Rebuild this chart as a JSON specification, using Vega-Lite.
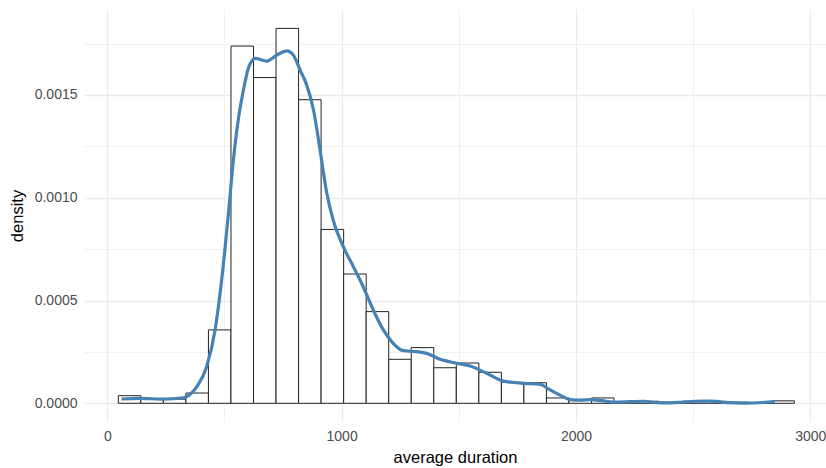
{
  "$schema": "https://vega.github.io/schema/vega-lite/v6.json",
  "width": 742,
  "height": 413,
  "autosize": {"type": "none"},
  "padding": {"left": 84, "top": 9, "right": 0, "bottom": 46},
  "background": "white",
  "config": {
    "view": {"stroke": null},
    "font": "Liberation Sans",
    "axis": {
      "domain": false,
      "ticks": false,
      "grid": true,
      "gridColor": "#EBEBEB",
      "labelFontSize": 14,
      "labelColor": "#4D4D4D",
      "labelPadding": 7,
      "labelOverlap": false,
      "labelBound": false,
      "labelFlush": false,
      "titleFontSize": 16.5,
      "titleFontWeight": "normal",
      "titleColor": "#000000"
    }
  },
  "datasets": {
    "bins": [
      {"bin_start": 47.0, "bin_end": 143.2, "density": 0.000037},
      {"bin_start": 143.2, "bin_end": 239.3, "density": 0.000020},
      {"bin_start": 239.3, "bin_end": 335.5, "density": 0.000020},
      {"bin_start": 335.5, "bin_end": 431.6, "density": 0.000050},
      {"bin_start": 431.6, "bin_end": 527.8, "density": 0.000357},
      {"bin_start": 527.8, "bin_end": 624.0, "density": 0.001738},
      {"bin_start": 624.0, "bin_end": 720.1, "density": 0.001585},
      {"bin_start": 720.1, "bin_end": 816.3, "density": 0.001824},
      {"bin_start": 816.3, "bin_end": 912.4, "density": 0.001477},
      {"bin_start": 912.4, "bin_end": 1008.6, "density": 0.000846},
      {"bin_start": 1008.6, "bin_end": 1104.8, "density": 0.000629},
      {"bin_start": 1104.8, "bin_end": 1200.9, "density": 0.000446},
      {"bin_start": 1200.9, "bin_end": 1297.1, "density": 0.000214},
      {"bin_start": 1297.1, "bin_end": 1393.2, "density": 0.000271},
      {"bin_start": 1393.2, "bin_end": 1489.4, "density": 0.000173},
      {"bin_start": 1489.4, "bin_end": 1585.6, "density": 0.000196},
      {"bin_start": 1585.6, "bin_end": 1681.7, "density": 0.000151},
      {"bin_start": 1681.7, "bin_end": 1777.9, "density": 0.000102},
      {"bin_start": 1777.9, "bin_end": 1874.0, "density": 0.000100},
      {"bin_start": 1874.0, "bin_end": 1970.2, "density": 0.000026},
      {"bin_start": 1970.2, "bin_end": 2066.4, "density": 0.000015},
      {"bin_start": 2066.4, "bin_end": 2162.5, "density": 0.000026},
      {"bin_start": 2162.5, "bin_end": 2258.7, "density": 0.000005},
      {"bin_start": 2258.7, "bin_end": 2354.8, "density": 0.000010},
      {"bin_start": 2354.8, "bin_end": 2451.0, "density": 0.000005},
      {"bin_start": 2451.0, "bin_end": 2547.2, "density": 0.000010},
      {"bin_start": 2547.2, "bin_end": 2643.3, "density": 0.000010},
      {"bin_start": 2643.3, "bin_end": 2739.5, "density": 0.000005},
      {"bin_start": 2739.5, "bin_end": 2835.6, "density": 0.0},
      {"bin_start": 2835.6, "bin_end": 2931.8, "density": 0.000012}
    ],
    "dens": [
      {"x": 61, "density": 0.000021},
      {"x": 140, "density": 0.000024},
      {"x": 239, "density": 0.000020},
      {"x": 324, "density": 0.000027},
      {"x": 382, "density": 0.000081},
      {"x": 424, "density": 0.000178},
      {"x": 460, "density": 0.000357},
      {"x": 488, "density": 0.000599},
      {"x": 517, "density": 0.000924},
      {"x": 538, "density": 0.001183},
      {"x": 559, "density": 0.00138},
      {"x": 581, "density": 0.001524},
      {"x": 602, "density": 0.00163},
      {"x": 631, "density": 0.001678},
      {"x": 681, "density": 0.001665},
      {"x": 723, "density": 0.001694},
      {"x": 766, "density": 0.001715},
      {"x": 794, "density": 0.001694},
      {"x": 823, "density": 0.001621},
      {"x": 851, "density": 0.001548},
      {"x": 880, "density": 0.001427},
      {"x": 908, "density": 0.001232},
      {"x": 937, "density": 0.001021},
      {"x": 964, "density": 0.000892},
      {"x": 1007, "density": 0.000762},
      {"x": 1050, "density": 0.000665},
      {"x": 1092, "density": 0.000567},
      {"x": 1135, "density": 0.000454},
      {"x": 1178, "density": 0.000357},
      {"x": 1220, "density": 0.000292},
      {"x": 1263, "density": 0.000256},
      {"x": 1320, "density": 0.000251},
      {"x": 1363, "density": 0.000243},
      {"x": 1420, "density": 0.000214},
      {"x": 1491, "density": 0.000195},
      {"x": 1548, "density": 0.000181},
      {"x": 1619, "density": 0.000146},
      {"x": 1690, "density": 0.000108},
      {"x": 1775, "density": 0.000097},
      {"x": 1847, "density": 0.000092},
      {"x": 1890, "density": 0.000065},
      {"x": 1932, "density": 0.000040},
      {"x": 1975, "density": 0.000018},
      {"x": 2020, "density": 0.000015},
      {"x": 2060, "density": 0.000018},
      {"x": 2110, "density": 0.000013},
      {"x": 2159, "density": 0.000006},
      {"x": 2231, "density": 0.000008},
      {"x": 2290, "density": 0.000010},
      {"x": 2345, "density": 0.000003},
      {"x": 2400, "density": 0.000002},
      {"x": 2451, "density": 0.000005},
      {"x": 2508, "density": 0.000010},
      {"x": 2560, "density": 0.000011},
      {"x": 2600, "density": 0.000009},
      {"x": 2643, "density": 0.000003},
      {"x": 2720, "density": 0.000001},
      {"x": 2799, "density": 0.000004},
      {"x": 2849, "density": 0.000008}
    ]
  },
  "layer": [
    {
      "data": {"name": "bins"},
      "mark": {"type": "bar", "fill": "white", "stroke": "#222222", "strokeWidth": 1},
      "encoding": {
        "x": {
          "field": "bin_start",
          "type": "quantitative",
          "title": "average duration",
          "scale": {"domain": [-99.4, 3067], "nice": false, "zero": false},
          "axis": {
            "values": [0, 500, 1000, 1500, 2000, 2500, 3000],
            "format": "d",
            "labelExpr": "datum.value % 1000 === 0 ? datum.label : ''",
            "gridWidth": {"condition": {"test": "datum.value % 1000 === 0", "value": 1.3}, "value": 0.7},
            "titlePadding": 6
          }
        },
        "x2": {"field": "bin_end"},
        "y": {
          "field": "density",
          "type": "quantitative",
          "title": "density",
          "scale": {"domain": [-0.000091, 0.0019184], "nice": false, "zero": false},
          "axis": {
            "values": [0, 0.00025, 0.0005, 0.00075, 0.001, 0.00125, 0.0015, 0.00175],
            "format": ".4f",
            "labelExpr": "round(datum.value * 20000) % 10 === 0 ? datum.label : ''",
            "gridWidth": {"condition": {"test": "round(datum.value * 20000) % 10 === 0", "value": 1.3}, "value": 0.7},
            "titlePadding": 9
          }
        },
        "y2": {"datum": 0}
      }
    },
    {
      "data": {"name": "dens"},
      "mark": {"type": "line", "color": "#4682B4", "strokeWidth": 3.2, "interpolate": "monotone"},
      "encoding": {
        "x": {"field": "x", "type": "quantitative"},
        "y": {"field": "density", "type": "quantitative"}
      }
    }
  ]
}
